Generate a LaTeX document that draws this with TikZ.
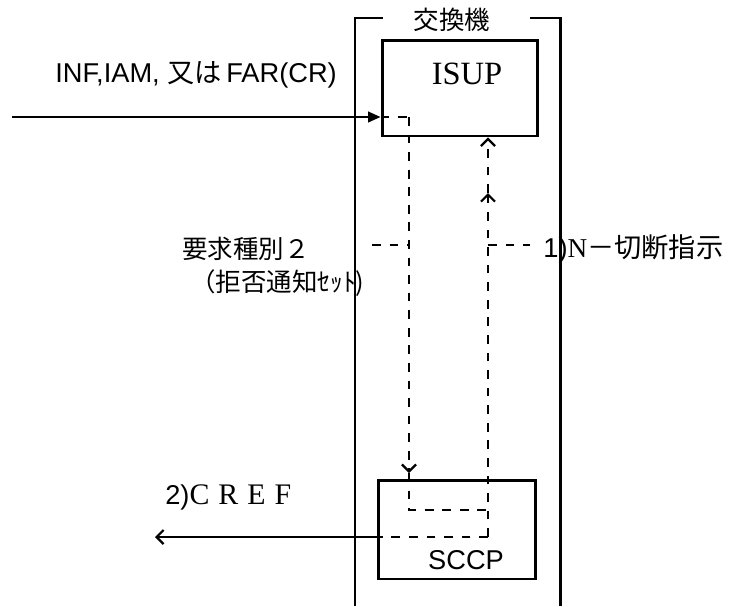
\documentclass[tikz,border=0pt]{standalone}
\usepackage{fontspec}
\setmainfont{Liberation Sans}
\newfontfamily\jp{Noto Sans CJK JP}
\newfontfamily\tms{Liberation Serif}
\usetikzlibrary{arrows.meta,positioning,calc}

\begin{document}
\begin{tikzpicture}[x=0.02cm, y=-0.02cm,
  box/.style={draw, line width=1.7pt, inner sep=0pt},
  frame/.style={line width=1.7pt},
  sig/.style={line width=1.1pt},
  dsig/.style={line width=1.2pt, dash pattern=on 5pt off 5pt},
  txt/.style={inner sep=0pt, font=\fontsize{15.5}{19}\selectfont},
  jtxt/.style={inner sep=0pt, font=\fontsize{14.5}{17}\selectfont\jp},
  tip/.style={-{Straight Barb[length=4pt,width=8pt,line width=1.3pt]}}
]
  \useasboundingbox (0,0) rectangle (733,606);

  % exchange frame
  \node[jtxt] (kk) at (452,20) {交換機};
  \draw[frame] (383,18) -- (355,18) -- (355,606);
  \draw[frame] (530,18) -- (560,18) -- (560,606);

  % blocks
  \node[box, minimum width=3.12cm, minimum height=1.92cm] (isup) at (460,88) {};
  \node[txt, font=\fontsize{18.5}{22}\selectfont\tms] (isupl) at (467,74) {ISUP};
  \node[box, minimum width=3.16cm, minimum height=1.98cm] (sccp) at (457,529.5) {};
  \node[txt] (sccpl) at (466,560) {SCCP};

  % labels
  \node[txt, anchor=west] (inl) at (55,75) {INF,IAM,\ {\jp 又は}\,FAR(CR)};
  \node[jtxt, anchor=west] (req) at (182,249) {要求種別２};
  \node[jtxt, anchor=west] (rej) at (190,283) {（拒否通知ｾｯﾄ)};
  \node[txt, anchor=west] (disc) at (543,249) {1){\tms N}{\jp －切断指示}};
  \node[txt, anchor=west] (cref) at (165,497) {2){\tms\fontsize{17}{20}\selectfont C\hspace{.3em}R\hspace{.3em}E\hspace{.3em}F}};

  % signal paths
  \coordinate (src) at (12,117);
  \coordinate (in) at (isup.west |- src);
  \coordinate (a1) at (409,117);
  \coordinate (dtip) at (409,473);
  \coordinate (a2) at (409,510);
  \coordinate (a4) at (488,537);
  \coordinate (umid) at (488,193);
  \coordinate (lq) at (372,245);
  \coordinate (rq) at (530,245);
  \coordinate (dst) at (155,537);

  \draw[sig, -{Triangle[length=7pt,width=6pt]}] (src) -- (in);
  \draw[dsig] (in) -- (a1);
  \draw[dsig, tip] (a1) -- (dtip);
  \draw[dsig] (dtip) -- (a2) -- (a2 -| a4);
  \draw[dsig, tip] (a4) -- (umid);
  \draw[dsig, tip] (umid) -- (isup.south -| a4);
  \draw[dsig] (a4) -- (sccp.west |- a4);
  \draw[sig, tip] (sccp.west |- a4) -- (dst);
  \draw[dsig] (lq) -- (lq -| a1);
  \draw[dsig] (rq -| a4) -- (rq);
\end{tikzpicture}
\end{document}
